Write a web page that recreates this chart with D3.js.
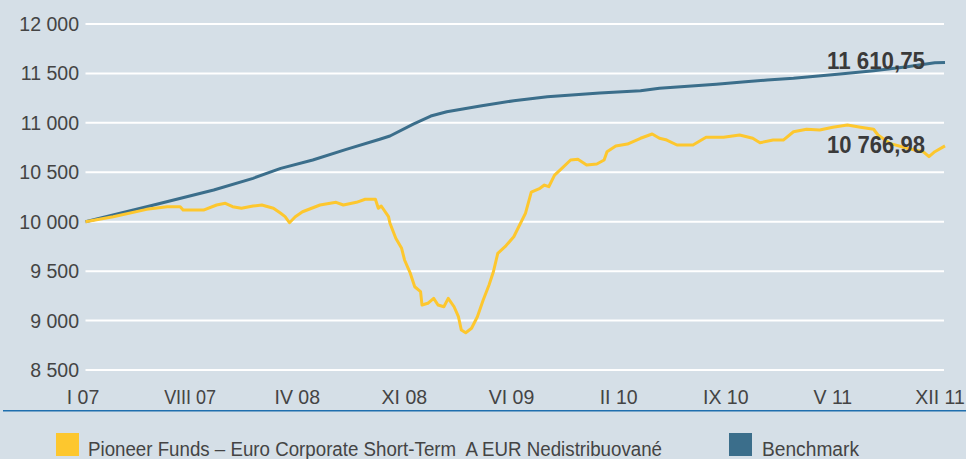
<!DOCTYPE html>
<html>
<head>
<meta charset="utf-8">
<script src="https://cdn.jsdelivr.net/npm/d3@7"></script>
<style>
  html, body { margin: 0; padding: 0; background: #d5dfe7; }
  svg { display: block; }
  text { font-family: "Liberation Sans", Arial, sans-serif; }
</style>
</head>
<body>
<svg id="chart" width="966" height="459"></svg>
<script>
// ---- data (t = months since January 2007) ----
const fundT = [0, 1.9, 4.2, 5.6, 6.5, 6.7, 8.1, 9.0, 9.6, 10.1, 10.7, 11.5, 12.1, 12.9, 13.4, 13.7, 14.0, 14.4, 14.9, 16.1, 17.2, 17.7, 18.6, 19.2, 19.9, 20.1, 20.3, 20.8, 20.9, 21.3, 21.7, 21.9, 22.3, 22.6, 23.0, 23.1, 23.5, 23.9, 24.2, 24.6, 24.9, 25.3, 25.6, 25.8, 26.1, 26.5, 26.9, 27.3, 27.7, 28.0, 28.3, 28.8, 29.4, 29.8, 30.2, 30.6, 31.2, 31.5, 31.8, 32.2, 32.7, 33.3, 33.8, 34.4, 35.1, 35.6, 35.8, 36.4, 37.2, 38.1, 38.9, 39.4, 39.9, 40.6, 41.7, 42.6, 43.8, 44.9, 45.8, 46.3, 47.2, 47.9, 48.6, 49.5, 50.4, 51.3, 52.3, 53.2, 54.1, 54.4, 55.2, 56.4, 57.5, 57.9, 58.3, 59];
const fundValues = [10000, 10051, 10125, 10152, 10152, 10118, 10118, 10169, 10186, 10152, 10136, 10159, 10169, 10136, 10085, 10051, 9990, 10051, 10101, 10169, 10196, 10169, 10196, 10227, 10227, 10136, 10159, 10051, 9984, 9832, 9731, 9613, 9477, 9342, 9292, 9157, 9175, 9225, 9157, 9140, 9225, 9140, 9039, 8904, 8877, 8922, 9039, 9208, 9360, 9494, 9680, 9747, 9848, 9967, 10085, 10300, 10338, 10371, 10354, 10472, 10540, 10624, 10631, 10574, 10584, 10624, 10708, 10766, 10786, 10844, 10887, 10844, 10826, 10776, 10776, 10854, 10854, 10877, 10844, 10799, 10826, 10826, 10910, 10935, 10928, 10955, 10978, 10955, 10935, 10877, 10793, 10743, 10708, 10658, 10708, 10766.98];

const benchT = [0, 4.2, 8.8, 11.5, 13.4, 15.6, 17.9, 20.2, 20.9, 22.5, 23.7, 24.8, 27.1, 29.4, 31.7, 35.3, 38.1, 39.4, 41.6, 43.3, 45.3, 46.8, 48.6, 50.3, 51.8, 54.1, 56.4, 58.3, 59];
const benchValues = [10000, 10152, 10321, 10439, 10540, 10624, 10732, 10834, 10867, 10988, 11069, 11113, 11171, 11224, 11264, 11302, 11325, 11349, 11373, 11390, 11416, 11433, 11451, 11474, 11494, 11528, 11568, 11608, 11610.75];

const xTickLabels = ["I 07", "VIII 07", "IV 08", "XI 08", "VI 09", "II 10", "IX 10", "V 11", "XII 11"];
const yTicks = [8500, 9000, 9500, 10000, 10500, 11000, 11500, 12000];
const fundLastLabel = "10 766,98";
const benchLastLabel = "11 610,75";
const legendNames = ["Pioneer Funds \u2013 Euro Corporate Short-Term  A EUR Nedistribuovan\u00e9", "Benchmark"];

// ---- layout ----
const W = 966, H = 459;
const svg = d3.select("#chart");
const colFund = "#fdc72e", colBench = "#3b6e8b", bg = "#d5dfe7";

svg.append("rect").attr("width", W).attr("height", H).attr("fill", bg);

const x = d3.scaleLinear().domain([0, 59]).range([85.5, 945]);
const y = d3.scaleLinear().domain([8500, 12000]).range([370, 24]);
const xLab = d3.scalePoint().domain(xTickLabels).range([83, 940]);

// grid
svg.append("g").selectAll("line").data(yTicks).join("line")
  .attr("x1", 85.5).attr("x2", 944)
  .attr("y1", d => y(d)).attr("y2", d => y(d))
  .attr("stroke", "#ffffff").attr("stroke-width", 2);

// y labels
const fmt = d => d3.format(",")(d).replace(/,/g, " ");
svg.append("g").selectAll("text").data(yTicks).join("text")
  .attr("x", 79).attr("y", d => y(d) + 7)
  .attr("text-anchor", "end")
  .attr("font-size", 19.5).attr("fill", "#444444")
  .text(fmt);

// x labels
svg.append("g").selectAll("text").data(xTickLabels).join("text")
  .attr("x", d => xLab(d)).attr("y", 404)
  .attr("text-anchor", "middle")
  .attr("font-size", 19.5).attr("fill", "#444444")
  .attr("textLength", d => d === "VIII 07" ? 52 : null)
  .attr("lengthAdjust", "spacingAndGlyphs")
  .text(d => d);

// axis line
svg.append("line").attr("x1", 3).attr("x2", 966).attr("y1", 410.7).attr("y2", 410.7)
  .attr("stroke", "#1f6fae").attr("stroke-width", 1.6);

// series
const line = d3.line().x(d => x(d[0])).y(d => y(d[1])).curve(d3.curveLinear);
const fundData = fundT.map((t, i) => [t, fundValues[i]]);
const benchData = benchT.map((t, i) => [t, benchValues[i]]);

svg.append("path").datum(benchData).attr("d", line)
  .attr("fill", "none").attr("stroke", colBench).attr("stroke-width", 3)
  .attr("stroke-linejoin", "round");
svg.append("path").datum(fundData).attr("d", line)
  .attr("fill", "none").attr("stroke", colFund).attr("stroke-width", 3)
  .attr("stroke-linejoin", "round");

// end value labels
svg.append("text").attr("x", 925).attr("y", 69.3).attr("text-anchor", "end")
  .attr("font-size", 23).attr("font-weight", "bold").attr("fill", "#3a3a3a")
  .attr("textLength", 98).attr("lengthAdjust", "spacingAndGlyphs")
  .text(benchLastLabel);
svg.append("text").attr("x", 925).attr("y", 152.7).attr("text-anchor", "end")
  .attr("font-size", 23).attr("font-weight", "bold").attr("fill", "#3a3a3a")
  .attr("textLength", 98).attr("lengthAdjust", "spacingAndGlyphs")
  .text(fundLastLabel);

// legend
const legend = [
  { name: legendNames[0], color: colFund, sx: 56, tx: 88, len: 574 },
  { name: legendNames[1], color: colBench, sx: 729, tx: 762, len: 97 }
];
const lg = svg.append("g").selectAll("g").data(legend).join("g");
lg.append("rect").attr("x", d => d.sx).attr("y", 433).attr("width", 23).attr("height", 23)
  .attr("fill", d => d.color);
lg.append("text").attr("x", d => d.tx).attr("y", 455.5)
  .attr("font-size", 19.5).attr("fill", "#444444")
  .style("white-space", "pre")
  .attr("textLength", d => d.len).attr("lengthAdjust", "spacingAndGlyphs")
  .text(d => d.name);
</script>
</body>
</html>
